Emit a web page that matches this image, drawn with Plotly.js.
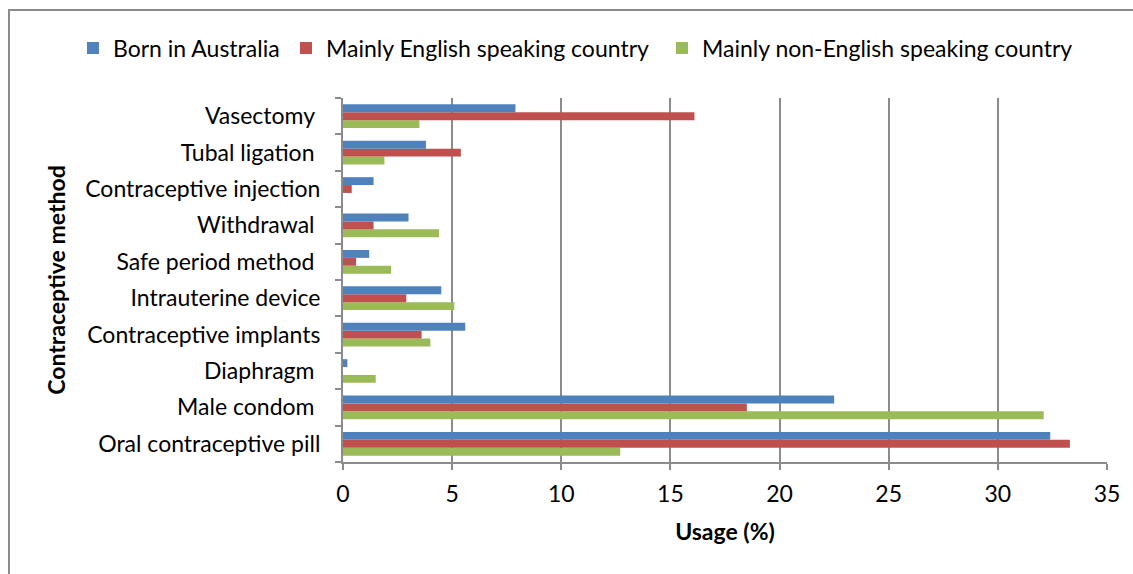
<!DOCTYPE html>
<html>
<head>
<meta charset="utf-8">
<script src="https://cdn.plot.ly/plotly-3.0.1.min.js"></script>
<style>
  html, body { margin: 0; padding: 0; background: #fff; }
  #wrap { position: relative; width: 1133px; height: 574px; overflow: hidden; }
  #chart { width: 1133px; height: 574px; }
  #frame { position: absolute; left: 8px; top: 9px; width: 1200px; height: 600px;
           border-left: 2px solid #8c8c8c; border-top: 2px solid #8c8c8c; pointer-events: none; }
</style>
</head>
<body>
<div id="wrap">
  <div id="chart"></div>
  <div id="frame"></div>
</div>
<script>
// Contraceptive methods, listed bottom to top
const methods = [
  'Oral contraceptive pill',
  'Male condom',
  'Diaphragm',
  'Contraceptive implants',
  'Intrauterine device',
  'Safe period method',
  'Withdrawal',
  'Contraceptive injection',
  'Tubal ligation',
  'Vasectomy'
];
// Tick labels as written on the axis
const methodLabels = [
  'Oral contraceptive pill',
  'Male condom\u00a0',
  'Diaphragm\u00a0',
  'Contraceptive implants',
  'Intrauterine device',
  'Safe period method\u00a0',
  'Withdrawal\u00a0',
  'Contraceptive injection',
  'Tubal ligation\u00a0',
  'Vasectomy\u00a0'
];

// Usage (%) by country of birth
const bornAustralia    = [32.4, 22.5, 0.2, 5.6, 4.5, 1.2, 3.0, 1.4, 3.8, 7.9];
const mainlyEnglish    = [33.3, 18.5, 0.0, 3.6, 2.9, 0.6, 1.4, 0.4, 5.4, 16.1];
const mainlyNonEnglish = [12.7, 32.1, 1.5, 4.0, 5.1, 2.2, 4.4, 0.0, 1.9, 3.5];

const seriesNames = ['Born in Australia', 'Mainly English speaking country', 'Mainly non-English speaking country'];
const seriesColors = ['#4F81BD', '#C0504D', '#9BBB59'];
const seriesValues = [bornAustralia, mainlyEnglish, mainlyNonEnglish];
const legendIds = ['legend', 'legend2', 'legend3'];

const xTicks = [0, 5, 10, 15, 20, 25, 30, 35];

// Plotly stacks grouped horizontal bars bottom-up, so add the series in reverse
const traces = [2, 1, 0].map(i => ({
  type: 'bar',
  orientation: 'h',
  name: seriesNames[i],
  legend: legendIds[i],
  y: methods,
  x: seriesValues[i],
  marker: { color: seriesColors[i], line: { width: 0 } },
  hoverinfo: 'x+name'
}));

const font = 'Lato, "Open Sans", sans-serif';
const fs = 23;
const W = 1133, H = 574;

// One single-entry legend per series, laid out in a row across the top
function legendAt(px) {
  return {
    orientation: 'h',
    xref: 'container', yref: 'container',
    x: px / W, xanchor: 'left',
    y: 1 - 48 / H, yanchor: 'middle',
    bgcolor: 'rgba(0,0,0,0)',
    font: { family: font, size: fs, color: '#000000' },
    itemwidth: 30
  };
}

const layout = {
  width: W,
  height: H,
  margin: { l: 343, r: 26, t: 98, b: 112, autoexpand: false },
  paper_bgcolor: '#ffffff',
  plot_bgcolor: '#ffffff',
  font: { family: font, size: fs, color: '#000000' },
  barmode: 'group',
  bargap: 0.35,
  bargroupgap: 0,
  showlegend: true,
  legend: legendAt(73),
  legend2: legendAt(286),
  legend3: legendAt(662),
  xaxis: {
    range: [0, 35],
    tickvals: xTicks,
    ticktext: xTicks.map(String),
    showgrid: true,
    gridcolor: '#8c8c8c',
    gridwidth: 2,
    zeroline: false,
    showline: true,
    linecolor: '#8c8c8c',
    linewidth: 2,
    ticks: 'outside',
    ticklen: 6,
    tickcolor: '#8c8c8c',
    tickwidth: 2,
    ticklabelstandoff: 4,
    tickfont: { family: font, size: fs, color: '#000000' },
    title: { text: '<b>Usage (%)</b>', font: { family: font, size: fs, color: '#000000' }, standoff: 18 },
    automargin: false
  },
  yaxis: {
    type: 'category',
    categoryorder: 'array',
    categoryarray: methods,
    tickvals: methods,
    ticktext: methodLabels,
    showgrid: false,
    zeroline: false,
    showline: true,
    linecolor: '#8c8c8c',
    linewidth: 2,
    ticks: 'outside',
    tickson: 'boundaries',
    ticklen: 6,
    tickcolor: '#8c8c8c',
    tickwidth: 2,
    ticklabelstandoff: 16,
    tickfont: { family: font, size: fs, color: '#000000' },
    title: { text: '<b>Contraceptive method</b>', font: { family: font, size: fs, color: '#000000' }, standoff: 13 },
    automargin: false
  }
};

Plotly.newPlot('chart', traces, layout, { displayModeBar: false, staticPlot: true });
</script>
</body>
</html>
